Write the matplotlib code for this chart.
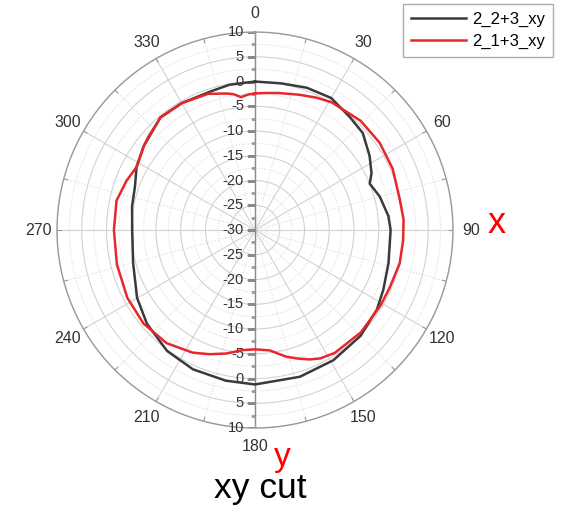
import numpy as np
import matplotlib
matplotlib.use("Agg")
import matplotlib.pyplot as plt

plt.rcParams['font.family'] = ['Liberation Sans', 'DejaVu Sans']

# ---- data (angles in degrees, gain in dB) ----
black_theta = [0, 10, 20, 30, 40, 48, 57, 64, 68, 75, 84, 90, 104, 115, 123, 135,
               149, 163, 180, 191, 204, 216, 229, 240, 255, 270, 281, 290, 298,
               307, 320, 330, 342, 350, 360]
black_r = [0.0, 0.1, 0.6, 0.8, -0.2, -0.7, -2.4, -3.8, -5.0, -3.9, -2.9, -2.6,
           -2.2, -1.4, -0.6, 0.2, 0.7, 1.0, 1.2, 1.0, 0.8, 0.2, -1.1, -2.5, -4.5,
           -5.2, -4.7, -4.2, -2.9, -1.85, -0.3, -0.4, -0.6, -0.2, 0.0]

red_theta = [0, 5, 10, 18, 25, 31, 44, 55, 66, 78, 86, 94, 103, 113, 121, 134,
             147, 153, 157, 161, 166, 173, 180, 186, 193, 200, 207, 218, 230, 242,
             256, 270, 282, 291, 298, 307, 311, 320, 330, 341, 348, 351, 354, 357, 360]
red_r = [-2.4, -2.2, -1.9, -1.25, -0.5, 0.1, 0.7, 0.75, 0.45, -0.1, 0.1, 0.0, 0.0,
         -0.4, -0.4, -0.25, -0.4, -0.9, -1.6, -2.5, -3.6, -5.5, -5.9, -5.6, -4.4,
         -3.3, -2.2, -1.0, -0.6, -0.8, -1.25, -1.5, -1.4, -2.2, -2.9, -1.85, -1.4,
         -0.3, -0.4, -0.9, -1.8, -2.2, -3.0, -2.6, -2.4]

series_names = ["2_2+3_xy", "2_1+3_xy"]
series_colors = ["#3a3a3a", "#e8262b"]

angle_ticks = list(range(0, 360, 30))
r_ticks = [-30, -25, -20, -15, -10, -5, 0, 5, 10]
r_min, r_max = -30, 10

# ---- figure ----
fig = plt.figure(figsize=(5.66, 5.12), dpi=100)
ax = fig.add_axes([0.1007, 0.164, 0.6996, 0.7734], projection='polar')
ax.set_theta_zero_location('N')
ax.set_theta_direction(-1)
ax.set_rlim(r_min, r_max)

ax.set_xticks(np.deg2rad(angle_ticks))
ax.set_xticklabels([])
ax.set_xticks(np.deg2rad(np.array(angle_ticks) + 15), minor=True)
ax.set_yticks(r_ticks)
ax.set_yticklabels([])
ax.set_yticks(np.array(r_ticks[:-1]) + 2.5, minor=True)
ax.tick_params(axis='both', which='both', length=0)
ax.grid(which='major', color='#d2d2d2', lw=0.8, ls='-')
ax.grid(which='minor', color='#e0e0e0', lw=0.7, ls=(0, (1.5, 1.5)))
ax.spines['polar'].set_color('#9a9a9a')
ax.spines['polar'].set_linewidth(1.0)

# vertical radial axis (0 / 180)
for th in (0.0, np.pi):
    ax.plot([th, th], [r_min, r_max], color='#8a8a8a', lw=1.0, zorder=2)
    ax.plot([th] * len(r_ticks), r_ticks, ls='none', marker=0, ms=6,
            mew=0.9, color='#8a8a8a', zorder=2)
    ax.plot([th] * (len(r_ticks) - 1), np.array(r_ticks[:-1]) + 2.5, ls='none',
            marker=0, ms=3, mew=0.8, color='#a0a0a0', zorder=2)
# small ticks on outer ring
for a in np.arange(0, 360, 15):
    ax.plot([np.deg2rad(a)] * 2, [r_max - 0.8, r_max], color='#9a9a9a', lw=0.8)

# radial labels
for r in r_ticks:
    ax.annotate(str(r), xy=(0, r), xytext=(-11, 0), textcoords='offset pixels',
                ha='right', va='center', fontsize=10.5, color='#333333')
for r in r_ticks[1:]:
    ax.annotate(str(r), xy=(np.pi, r), xytext=(-11, 0), textcoords='offset pixels',
                ha='right', va='center', fontsize=10.5, color='#333333')

# angle labels
for a in angle_ticks:
    ax.text(np.deg2rad(a), 13.65, str(a), ha='center', va='center',
            fontsize=11.5, color='#333333', clip_on=False)

# curves
ax.plot(np.deg2rad(black_theta), black_r, color=series_colors[0], lw=1.8,
        label=series_names[0], zorder=3)
ax.plot(np.deg2rad(red_theta), red_r, color=series_colors[1], lw=1.8,
        label=series_names[1], zorder=4)

leg = fig.legend(loc='upper right', bbox_to_anchor=(553 / 566, 1 - 4 / 512),
                 borderaxespad=0, fontsize=12, frameon=True, fancybox=False,
                 handlelength=3.3, handletextpad=0.4, borderpad=0.45,
                 labelspacing=0.45)
leg.get_frame().set_edgecolor('#9a9a9a')
leg.get_frame().set_linewidth(1.0)

fig.text(497 / 566, 1 - 233 / 512, "x", color='red', fontsize=26,
         ha='center', va='baseline')
fig.text(282 / 566, 1 - 466 / 512, "y", color='red', fontsize=24,
         ha='center', va='baseline')
fig.text(260 / 566, 1 - 498 / 512, "xy cut", color='black', fontsize=25.5,
         ha='center', va='baseline')

fig.savefig("out.png", dpi=100)
